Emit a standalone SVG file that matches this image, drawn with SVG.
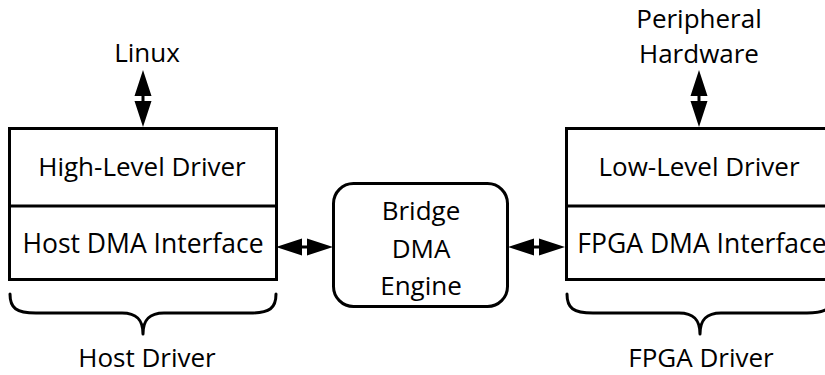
<svg xmlns="http://www.w3.org/2000/svg" xmlns:xlink="http://www.w3.org/1999/xlink" width="825" height="375" viewBox="0 0 825 375">
  <style>
    .box { fill: #ffffff; stroke: #000000; stroke-width: 3; }
    .div { fill: none; stroke: #000000; stroke-width: 3; }
    .brace { fill: none; stroke: #000000; stroke-width: 3; stroke-linecap: round; stroke-linejoin: round; }
    .lbl { font-family: "Open Sans", "Noto Sans", "DejaVu Sans", sans-serif; font-size: 26px; fill: #000000; text-anchor: middle; }
    .wide { font-size: 26.5px; }
    .arrow { fill: #000000; stroke: none; }
  </style>
  <defs>
    <!-- double-headed arrow, 57 long, laid out along +x -->
    <path id="dbl" class="arrow" d="M0,0 L26,-8.5 L26,-1.5 L31,-1.5 L31,-8.5 L57,0 L31,8.5 L31,1.5 L26,1.5 L26,8.5 Z"/>
  </defs>
  <rect width="825" height="375" fill="#ffffff"/>

  <!-- connectors -->
  <g id="connectors">
    <use xlink:href="#dbl" transform="translate(143,70) rotate(90)"/>
    <use xlink:href="#dbl" transform="translate(699,70) rotate(90)"/>
    <use xlink:href="#dbl" transform="translate(276,247)"/>
    <use xlink:href="#dbl" transform="translate(508,247)"/>
  </g>

  <!-- external labels -->
  <g id="linux">
    <text class="lbl" x="147" y="62">Linux</text>
  </g>
  <g id="peripheral">
    <text class="lbl" x="699" y="28">Peripheral</text>
    <text class="lbl" x="699" y="63">Hardware</text>
  </g>

  <!-- host side -->
  <g id="host-driver">
    <rect class="box" x="9.5" y="128.5" width="267" height="151"/>
    <line class="div" x1="9.5" y1="206" x2="276.5" y2="206"/>
    <text class="lbl" x="142" y="176">High-Level Driver</text>
    <text class="lbl wide" x="143" y="253">Host DMA Interface</text>
  </g>

  <!-- bridge engine -->
  <g id="bridge">
    <rect class="box" x="333.5" y="183.5" width="174" height="123" rx="20" ry="20"/>
    <text class="lbl" x="421" y="220">Bridge</text>
    <text class="lbl" x="421" y="258">DMA</text>
    <text class="lbl" x="421" y="295">Engine</text>
  </g>

  <!-- fpga side -->
  <g id="fpga-driver">
    <rect class="box" x="566.5" y="128.5" width="267" height="151"/>
    <line class="div" x1="566.5" y1="206" x2="833.5" y2="206"/>
    <text class="lbl" x="699" y="176">Low-Level Driver</text>
    <text class="lbl wide" x="702" y="253">FPGA DMA Interface</text>
  </g>

  <!-- grouping braces and captions -->
  <g id="host-brace">
    <path class="brace" d="M10,294 C10,308 16,313 36,313 L122,313 C137,313 143,320 143,334 C143,320 149,313 164,313 L250,313 C270,313 276,308 276,294"/>
    <text class="lbl" x="147" y="367">Host Driver</text>
  </g>
  <g id="fpga-brace">
    <path class="brace" d="M567,294 C567,308 573,313 593,313 L679,313 C694,313 700,320 700,334 C700,320 706,313 721,313 L807,313 C827,313 833,308 833,294"/>
    <text class="lbl" x="701" y="367">FPGA Driver</text>
  </g>
</svg>
